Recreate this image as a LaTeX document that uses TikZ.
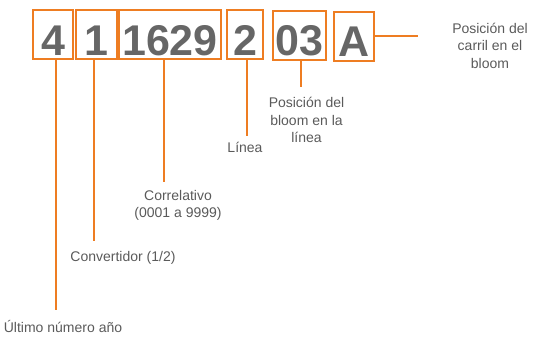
\documentclass[tikz,border=0pt]{standalone}
\usepackage{fontspec}
\setmainfont{Liberation Sans}
\definecolor{naranja}{HTML}{EE7D22}
\definecolor{grisnum}{HTML}{666666}
\definecolor{gristxt}{HTML}{5A5A5A}
\tikzset{
    caja/.style={draw=naranja, line width=2pt, inner sep=0pt, text height=45pt, text depth=4pt,
        text=grisnum, font=\fontsize{43}{43}\selectfont\bfseries},
    conector/.style={draw=naranja, line width=2pt},
    etiqueta/.style={text=gristxt, font=\fontsize{14}{17.5}\selectfont, align=center, inner xsep=0pt, anchor=north}
}
\begin{document}
\begin{tikzpicture}[x=1pt,y=-1pt]

    \useasboundingbox (0,0) rectangle (541,338);

    % cajas del codigo
    \node[caja, minimum width=40pt]  (d4)    at (53,34.5)  {4};
    \node[caja, minimum width=41pt]  (d1)    at (96.5,34.5) {1};
    \node[caja, minimum width=102pt] (d1629) at (170,34.5) {1629};
    \node[caja, minimum width=36pt]  (d2)    at (245,34.5) {2};
    \node[caja, minimum width=53pt]  (d03)   at (299.5,35) {03};
    \node[caja, minimum width=40pt]  (dA)    at (354,36)   {A};

    % textos
    \node[etiqueta, inner ysep=10pt]   (ult)   at (63,310)  {Último número año};
    \node[etiqueta, inner ysep=10.5pt] (conv)  at (123,241) {Convertidor (1/2)};
    \node[etiqueta, inner ysep=8pt]    (corr)  at (178,182) {Correlativo\\(0001 a 9999)};
    \node[etiqueta, inner ysep=6pt]    (lin)   at (245,136) {Línea};
    \node[etiqueta, inner ysep=10pt]   (bloom) at (306.5,87) {Posición del\\bloom en la\\línea};
    \node[etiqueta, inner ysep=0pt]    (carril) at (490,22.8) {Posición del\\carril en el\\bloom};
    \coordinate (finA) at (418,36);

    % conectores
    \draw[conector] ([xshift=3pt]d4.south) -- ([xshift=3pt]d4.south |- ult.north);
    \draw[conector] ([xshift=-2.5pt]d1.south) -- ([xshift=-2.5pt]d1.south |- conv.north);
    \draw[conector] ([xshift=-6pt]d1629.south) -- ([xshift=-6pt]d1629.south |- corr.north);
    \draw[conector] ([xshift=2pt]d2.south) -- ([xshift=2pt]d2.south |- lin.north);
    \draw[conector] ([xshift=1.5pt]d03.south) -- ([xshift=1.5pt]d03.south |- bloom.north);
    \draw[conector] (dA.east) -- (finA);

\end{tikzpicture}
\end{document}
